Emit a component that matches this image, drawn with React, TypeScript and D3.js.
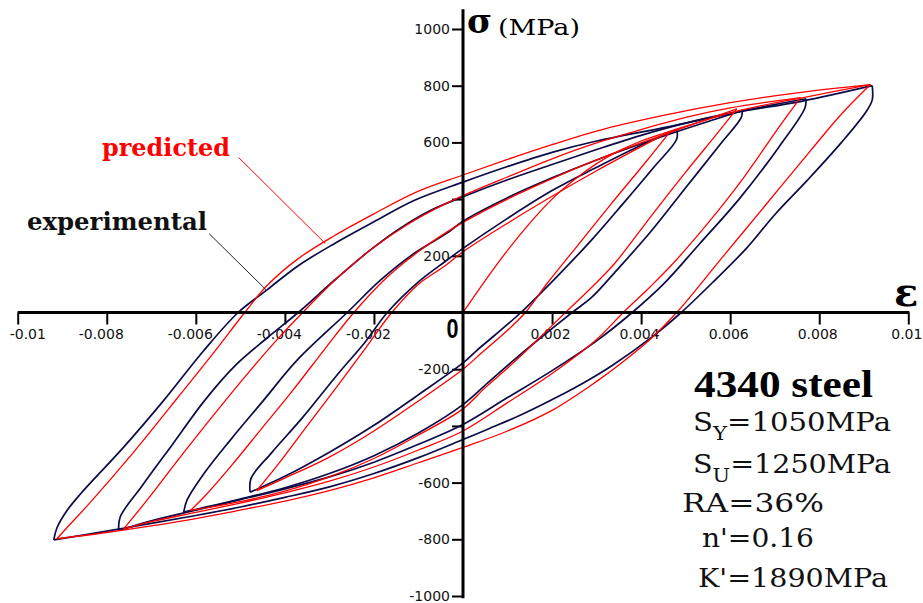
import React, { useEffect, useRef } from "react";
import * as d3 from "d3";

type Pt = [number, number];

// [strain, stress MPa], one array per branch
// experimental loops (navy)
const expUp1: Pt[] = [[-0.00919, -802], [-0.00912, -760], [-0.0089, -700], [-0.00859, -640], [-0.00762, -475], [-0.00672, -310], [-0.00582, -134], [-0.00505, 0], [-0.0044, 80], [-0.0037, 165], [-0.0029, 242], [-0.002, 320], [-0.0011, 395], [0, 460], [0.001, 515], [0.002, 565], [0.003, 605], [0.0046, 655], [0.0061, 705], [0.0076, 745], [0.00919, 800]];
const expDown1: Pt[] = [[0.00919, 800], [0.00919, 750], [0.00906, 710], [0.0085, 600], [0.00773, 466], [0.007, 345], [0.00638, 229], [0.0056, 105], [0.0049, 0], [0.00424, -87], [0.00335, -187], [0.00282, -238], [0.00207, -302], [0.00132, -360], [0.00058, -410], [0, -448], [-0.001, -512], [-0.002, -568], [-0.003, -615], [-0.004, -652], [-0.005, -686], [-0.006, -716], [-0.007, -744], [-0.008, -771], [-0.00919, -802]];
const expUp2: Pt[] = [[-0.00773, -769], [-0.0077, -722], [-0.0072, -610], [-0.0065, -460], [-0.0058, -310], [-0.0051, -185], [-0.0044, -90], [-0.0037, 0], [-0.0029, 112], [-0.0021, 218], [-0.0014, 298], [-0.0007, 362], [0, 408], [0.001, 468], [0.002, 522], [0.003, 575], [0.004, 625], [0.005, 668], [0.006, 703], [0.0077, 754]];
const expDown2: Pt[] = [[0.0077, 754], [0.00768, 722], [0.0071, 585], [0.0062, 400], [0.0053, 240], [0.0045, 100], [0.0038, 0], [0.003, -100], [0.002, -205], [0.001, -300], [0, -395], [-0.001, -465], [-0.002, -528], [-0.003, -580], [-0.004, -622], [-0.005, -660], [-0.006, -697], [-0.007, -735], [-0.00773, -769]];
const expUp3: Pt[] = [[-0.00627, -704], [-0.0062, -663], [-0.00582, -569], [-0.00523, -451], [-0.00448, -310], [-0.00373, -169], [-0.0026, 0], [-0.00186, 113], [-0.00111, 207], [-0.00036, 280], [0, 322], [0.001, 405], [0.002, 475], [0.003, 538], [0.004, 595], [0.005, 648], [0.00627, 712]];
const expDown3: Pt[] = [[0.00627, 712], [0.00625, 688], [0.0058, 598], [0.005, 440], [0.0042, 282], [0.0034, 140], [0.0029, 55], [0.00245, 0], [0.0018, -82], [0.0012, -160], [0.0006, -242], [0, -325], [-0.001, -425], [-0.002, -505], [-0.003, -568], [-0.004, -618], [-0.005, -658], [-0.00627, -704]];
const expUp4: Pt[] = [[-0.00478, -634], [-0.00476, -585], [-0.0043, -495], [-0.0036, -370], [-0.0028, -215], [-0.0022, -105], [-0.0017, 0], [-0.001, 108], [-0.0004, 180], [0, 226], [0.001, 332], [0.002, 430], [0.003, 512], [0.004, 590], [0.0048, 645]];
const expDown4: Pt[] = [[0.0048, 645], [0.0048, 612], [0.0043, 515], [0.0036, 385], [0.0029, 258], [0.0021, 125], [0.0013, 0], [0.0007, -82], [0.0003, -135], [0, -178], [-0.001, -290], [-0.002, -398], [-0.003, -493], [-0.004, -578], [-0.00478, -634]];

// predicted loops (red)
const predFirst: Pt[] = [[0, 0], [0.0008, 178], [0.0015, 315], [0.002, 400], [0.0025, 468], [0.003, 525], [0.0035, 570], [0.004, 605], [0.00466, 640], [0.0062, 712], [0.0077, 760], [0.00915, 804]];
const predUp1: Pt[] = [[-0.00912, -798], [-0.0089, -760], [-0.0084, -675], [-0.0075, -512], [-0.0066, -338], [-0.0057, -162], [-0.0049, 0], [-0.0044, 95], [-0.0037, 190], [-0.0029, 270], [-0.002, 348], [-0.001, 428], [0, 485], [0.001, 540], [0.002, 592], [0.003, 640], [0.0045, 695], [0.006, 740], [0.0075, 775], [0.00915, 804]];
const predDown1: Pt[] = [[0.00915, 804], [0.0085, 700], [0.0078, 570], [0.0068, 380], [0.0058, 190], [0.0048, 0], [0.0042, -95], [0.0035, -185], [0.003, -243], [0.002, -345], [0.001, -418], [0, -476], [-0.001, -530], [-0.002, -583], [-0.003, -628], [-0.004, -665], [-0.005, -697], [-0.006, -727], [-0.007, -753], [-0.008, -776], [-0.00912, -798]];
const predUp2: Pt[] = [[-0.00762, -763], [-0.0071, -663], [-0.00635, -510], [-0.00552, -346], [-0.00478, -205], [-0.0042, -100], [-0.0036, 0], [-0.0028, 125], [-0.002, 230], [-0.0012, 315], [-0.0005, 375], [0, 412], [0.001, 478], [0.002, 542], [0.003, 598], [0.004, 645], [0.005, 688], [0.006, 722], [0.00758, 758]];
const predDown2: Pt[] = [[0.00758, 758], [0.0071, 655], [0.0063, 475], [0.0055, 315], [0.0047, 170], [0.0042, 90], [0.0036, 0], [0.003, -95], [0.002, -215], [0.001, -318], [0, -418], [-0.001, -485], [-0.002, -545], [-0.003, -595], [-0.004, -636], [-0.005, -672], [-0.006, -705], [-0.007, -738], [-0.00762, -763]];
const predUp3: Pt[] = [[-0.00612, -698], [-0.0058, -648], [-0.0052, -540], [-0.0045, -405], [-0.0038, -270], [-0.0031, -128], [-0.00245, 0], [-0.0017, 125], [-0.001, 215], [-0.0004, 280], [0, 318], [0.001, 400], [0.002, 472], [0.003, 538], [0.004, 598], [0.005, 655], [0.00615, 718]];
const predDown3: Pt[] = [[0.00615, 718], [0.0057, 630], [0.005, 495], [0.0042, 335], [0.0034, 172], [0.0028, 75], [0.0023, 0], [0.0017, -92], [0.0011, -182], [0.0005, -265], [0, -340], [-0.001, -432], [-0.002, -515], [-0.003, -580], [-0.004, -630], [-0.005, -667], [-0.00612, -698]];
const predUp4: Pt[] = [[-0.00463, -628], [-0.0041, -525], [-0.0035, -400], [-0.0028, -255], [-0.0022, -128], [-0.0016, 0], [-0.001, 100], [-0.0004, 165], [0, 214], [0.001, 315], [0.002, 410], [0.003, 500], [0.004, 585], [0.00466, 640]];
const predDown4: Pt[] = [[0.00466, 640], [0.0041, 530], [0.0033, 378], [0.0025, 222], [0.0019, 105], [0.0014, 0], [0.00095, -70], [0.0004, -145], [0, -200], [-0.001, -312], [-0.002, -418], [-0.003, -510], [-0.004, -584], [-0.00463, -628]];

const experimental = [expUp1, expDown1, expUp2, expDown2, expUp3, expDown3, expUp4, expDown4];
const predicted = [predFirst, predUp1, predDown1, predUp2, predDown2, predUp3, predDown3, predUp4, predDown4];

const xTicks = [-0.01, -0.008, -0.006, -0.004, -0.002, 0.002, 0.004, 0.006, 0.008, 0.01];
const yTicks = [-1000, -800, -600, -400, -200, 200, 400, 600, 800, 1000];
const yHiddenLabels = [400, -400]; // buried under the loops in the original

const steelName = "4340 steel";
const steelProps = [
  { main: "S", sub: "Y", rest: "=1050MPa" },
  { main: "S", sub: "U", rest: "=1250MPa" },
  { main: "RA=36%", sub: "", rest: "" },
  { main: "n'=0.16", sub: "", rest: "" },
  { main: "K'=1890MPa", sub: "", rest: "" },
];

const NAVY = "#0b0b48";
const RED = "#ff0000";

const App = () => {
  const ref = useRef<SVGSVGElement>(null);

  useEffect(() => {
    const width = 923;
    const height = 603;
    const svg = d3.select(ref.current);
    svg.selectAll("*").remove();
    svg.attr("width", width).attr("height", height);

    const x = d3.scaleLinear().domain([-0.01, 0.01]).range([17.7, 908.3]);
    const y = d3.scaleLinear().domain([-1000, 1000]).range([596, 29]);
    const xMin = x.domain()[0];

    // tick marks + labels
    const gx = svg
      .append("g")
      .attr("transform", `translate(0,${y(0)})`)
      .call(
        d3
          .axisBottom(x)
          .tickValues(xTicks)
          .tickSize(12)
          .tickSizeOuter(0)
          .tickPadding(5)
          .tickFormat((d) => String(d))
      );
    gx.select(".domain").remove();
    gx.selectAll(".tick line").attr("stroke", "#000").attr("stroke-width", 2);
    gx.selectAll(".tick text")
      // first label is pushed inside the frame, like the original
      .attr("text-anchor", (d: any) => (d === xMin ? "start" : "middle"))
      .attr("dx", (d: any) => (d === xMin ? -8.5 : d < 0 ? -6 : -2))
      .style("font-family", "'DejaVu Sans', sans-serif")
      .style("font-size", "14px")
      .attr("fill", "#111");

    const gy = svg
      .append("g")
      .attr("transform", `translate(${x(0)},0)`)
      .call(
        d3
          .axisLeft(y)
          .tickValues(yTicks)
          .tickSize(11)
          .tickSizeOuter(0)
          .tickPadding(2)
          .tickFormat((d: any) => (yHiddenLabels.includes(d) ? "" : String(d)))
      );
    gy.select(".domain").remove();
    gy.selectAll(".tick line").attr("stroke", "#000").attr("stroke-width", 2);
    gy.selectAll(".tick text")
      .style("font-family", "'DejaVu Sans', sans-serif")
      .style("font-size", "14px")
      .attr("fill", "#111");

    // loops
    const line = d3
      .line<Pt>()
      .x((d) => x(d[0]))
      .y((d) => y(d[1]))
      .curve(d3.curveCatmullRom.alpha(0.5));

    svg
      .append("g")
      .selectAll("path")
      .data(experimental)
      .enter()
      .append("path")
      .attr("d", line)
      .attr("fill", "none")
      .attr("stroke", NAVY)
      .attr("stroke-width", 1.7);

    svg
      .append("g")
      .selectAll("path")
      .data(predicted)
      .enter()
      .append("path")
      .attr("d", line)
      .attr("fill", "none")
      .attr("stroke", RED)
      .attr("stroke-width", 1.3);

    // axis lines on top
    svg
      .append("line")
      .attr("x1", x(-0.01))
      .attr("x2", x(0.01) + 1)
      .attr("y1", y(0))
      .attr("y2", y(0))
      .attr("stroke", "#000")
      .attr("stroke-width", 3);
    svg
      .append("line")
      .attr("x1", x(0))
      .attr("x2", x(0))
      .attr("y1", y(1070))
      .attr("y2", y(-1008))
      .attr("stroke", "#000")
      .attr("stroke-width", 3);

    const serif = "'DejaVu Serif', serif";

    // axis titles
    svg
      .append("text")
      .attr("x", 452.5)
      .attr("y", 338)
      .attr("text-anchor", "middle")
      .attr("textLength", 12)
      .attr("lengthAdjust", "spacingAndGlyphs")
      .style("font-family", "'Liberation Sans', Arial, sans-serif")
      .style("font-weight", "bold")
      .style("font-size", "28px")
      .text("0");
    svg
      .append("text")
      .attr("x", 894)
      .attr("y", 306)
      .style("font-family", serif)
      .style("font-weight", "bold")
      .style("font-size", "40px")
      .text("ε");
    svg
      .append("text")
      .attr("x", 467)
      .attr("y", 33)
      .style("font-family", serif)
      .style("font-weight", "bold")
      .style("font-size", "34px")
      .text("σ");
    svg
      .append("text")
      .attr("x", 498)
      .attr("y", 35)
      .attr("textLength", 82)
      .attr("lengthAdjust", "spacingAndGlyphs")
      .style("font-family", serif)
      .style("font-size", "23px")
      .text("(MPa)");

    // annotations
    svg
      .append("text")
      .attr("x", 102)
      .attr("y", 156)
      .attr("textLength", 128)
      .attr("lengthAdjust", "spacingAndGlyphs")
      .attr("fill", RED)
      .style("font-family", serif)
      .style("font-weight", "bold")
      .style("font-size", "25px")
      .text("predicted");
    svg
      .append("line")
      .attr("x1", x(-0.00504))
      .attr("y1", y(547))
      .attr("x2", x(-0.00309))
      .attr("y2", y(243))
      .attr("stroke", RED)
      .attr("stroke-width", 1);
    svg
      .append("text")
      .attr("x", 27)
      .attr("y", 230)
      .attr("textLength", 180)
      .attr("lengthAdjust", "spacingAndGlyphs")
      .attr("fill", "#111")
      .style("font-family", serif)
      .style("font-weight", "bold")
      .style("font-size", "25px")
      .text("experimental");
    svg
      .append("line")
      .attr("x1", x(-0.0057))
      .attr("y1", y(278))
      .attr("x2", x(-0.00441))
      .attr("y2", y(78))
      .attr("stroke", "#222")
      .attr("stroke-width", 1);

    // material block
    svg
      .append("text")
      .attr("x", 694)
      .attr("y", 397)
      .attr("textLength", 179)
      .attr("lengthAdjust", "spacingAndGlyphs")
      .style("font-family", "'Liberation Serif', 'Times New Roman', serif")
      .style("font-weight", "bold")
      .style("font-size", "38px")
      .text(steelName);

    const propPos = [
      { px: 693, py: 431, w: 198 },
      { px: 693, py: 473, w: 198 },
      { px: 682, py: 512, w: 142 },
      { px: 702, py: 547, w: 112 },
      { px: 698, py: 587, w: 190 },
    ];
    steelProps.forEach((p, i) => {
      const pos = propPos[i];
      const t = svg
        .append("text")
        .attr("x", pos.px)
        .attr("y", pos.py)
        .attr("textLength", pos.w)
        .attr("lengthAdjust", "spacingAndGlyphs")
        .style("font-family", serif)
        .style("font-size", "26px")
        .attr("fill", "#111");
      t.append("tspan").text(p.main);
      if (p.sub) {
        t.append("tspan").attr("dy", 9).style("font-size", "19px").text(p.sub);
        t.append("tspan").attr("dy", -9).text(p.rest);
      }
    });
  }, []);

  return (
    <svg
      ref={ref}
      style={{ position: "absolute", left: 0, top: 0, background: "#fff" }}
    ></svg>
  );
};

export default App;
